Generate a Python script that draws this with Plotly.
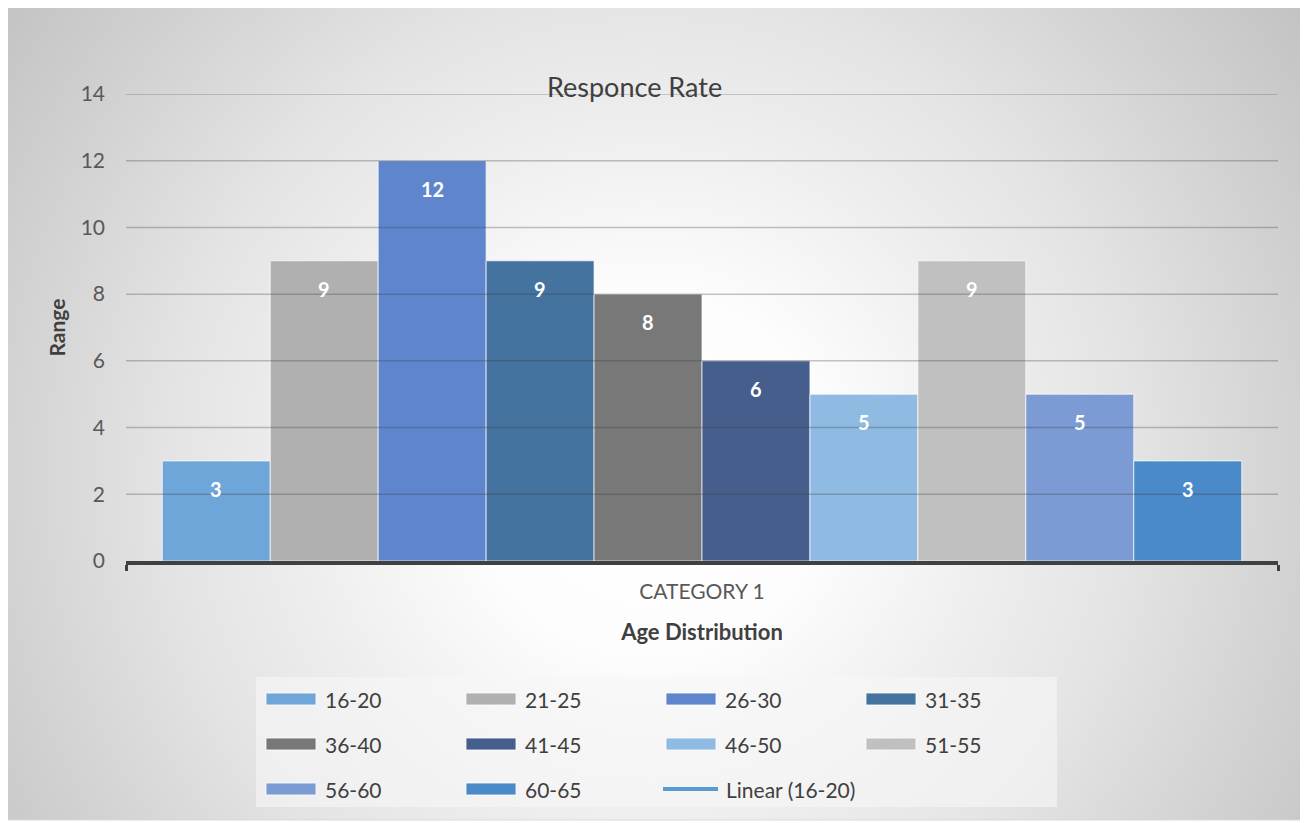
import base64
import plotly.graph_objects as go

# data
category = ["CATEGORY 1"]
age_groups = ["16-20", "21-25", "26-30", "31-35", "36-40",
              "41-45", "46-50", "51-55", "56-60", "60-65"]
responses = [3, 9, 12, 9, 8, 6, 5, 9, 5, 3]
bar_colors = ["#6FA6D9", "#B0B0B0", "#5F86CC", "#44739F", "#787878",
              "#455E8C", "#8FBAE2", "#C0C0C0", "#7C9BD4", "#4A8AC8"]
trend_name = "Linear (16-20)"
trend_color = "#5B9BD5"
y_ticks = [0, 2, 4, 6, 8, 10, 12, 14]

# page body has an 8px margin, so the figure is 8px smaller and
# all pixel positions below are given in page coordinates
OFF = 8
W, H = 1300, 815
L, R, T, B = 126 - OFF, 30, 94 - OFF, 262
PW, PH = W - L - R, H - T - B
BARGAP = 0.063
FONT = "Lato, 'Open Sans', sans-serif"


def px(x):
    return (x - OFF - L) / PW


def py(y):
    return (H - B - (y - OFF)) / PH


# radial grey background like the Excel chart area
svg = (
    "<svg xmlns='http://www.w3.org/2000/svg' width='1299' height='815' "
    "viewBox='0 0 1299 815' preserveAspectRatio='none'>"
    "<defs><radialGradient id='g' gradientUnits='userSpaceOnUse' cx='643' cy='470' r='800'>"
    "<stop offset='0' stop-color='#ffffff'/>"
    "<stop offset='0.22' stop-color='#fdfdfd'/>"
    "<stop offset='0.45' stop-color='#ededed'/>"
    "<stop offset='0.6' stop-color='#e4e4e4'/>"
    "<stop offset='0.8' stop-color='#d3d3d3'/>"
    "<stop offset='1' stop-color='#c3c3c3'/>"
    "</radialGradient></defs>"
    "<rect width='1299' height='815' fill='url(#g)'/></svg>"
)
bg_src = "data:image/svg+xml;base64," + base64.b64encode(svg.encode()).decode()

fig = go.Figure()

for name, val, col in zip(age_groups, responses, bar_colors):
    fig.add_trace(go.Bar(
        x=category, y=[val], name=name,
        marker=dict(color=col, line=dict(color="rgba(255,255,255,0.7)", width=1)),
        showlegend=False,
        hovertemplate=name + ": %{y}<extra></extra>",
    ))

# data labels, placed at each grouped bar's centre
n = len(age_groups)
bw = (1 - BARGAP) / n
annotations = []
for i, val in enumerate(responses):
    annotations.append(dict(
        x=-(1 - BARGAP) / 2 + (i + 0.5) * bw, y=val, xref="x", yref="y",
        text=str(val), showarrow=False, yshift=-28,
        font=dict(family=FONT, size=20, color="white", weight="bold"),
    ))

annotations.append(dict(
    x=px(634), y=py(86), xref="paper", yref="paper", text="Responce Rate",
    xanchor="center", yanchor="middle",
    showarrow=False, font=dict(family=FONT, size=27, color="#404040"),
))

shapes = []
# gridlines drawn over the bars
for t in y_ticks[1:]:
    shapes.append(dict(type="line", xref="paper", yref="y", x0=0, x1=1, y0=t, y1=t,
                       line=dict(color="rgba(60,60,60,0.3)", width=1.5), layer="above"))

# custom legend
shapes.append(dict(type="rect", xref="paper", yref="paper",
                   x0=px(256), x1=px(1057), y0=py(677), y1=py(807),
                   fillcolor="rgba(246,246,246,0.6)", line=dict(width=0), layer="below"))
entries = list(zip(age_groups, bar_colors)) + [(trend_name, trend_color)]
for i, (name, col) in enumerate(entries):
    row, c = divmod(i, 4)
    x0 = 266 + c * 200
    yc = 699 + row * 45
    if name == trend_name:
        shapes.append(dict(type="line", xref="paper", yref="paper",
                           x0=px(x0 - 3), x1=px(x0 + 52), y0=py(yc), y1=py(yc),
                           line=dict(color=col, width=4)))
        tx = x0 + 58
    else:
        shapes.append(dict(type="rect", xref="paper", yref="paper",
                           x0=px(x0), x1=px(x0 + 50), y0=py(yc - 6), y1=py(yc + 6),
                           fillcolor=col, line=dict(color="rgba(255,255,255,0.8)", width=1)))
        tx = x0 + 57
    annotations.append(dict(
        x=px(tx), y=py(yc), xref="paper", yref="paper", text=name,
        xanchor="left", yanchor="middle", showarrow=False,
        font=dict(family=FONT, size=21, color="#404040"),
    ))

# outer chart-area border
shapes.append(dict(type="rect", xref="paper", yref="paper",
                   x0=px(7), x1=px(1306), y0=py(5), y1=py(820),
                   line=dict(color="#d9d9d9", width=1), layer="below"))

fig.update_layout(
    width=W, height=H,
    margin=dict(l=L, r=R, t=T, b=B),
    paper_bgcolor="white",
    plot_bgcolor="rgba(0,0,0,0)",
    barmode="group", bargap=BARGAP, bargroupgap=0,
    showlegend=False,
    font=dict(family=FONT, color="#595959"),
    images=[dict(source=bg_src, xref="paper", yref="paper",
                 x=px(7), y=py(5), sizex=(1306 - 7) / PW, sizey=(820 - 5) / PH,
                 xanchor="left", yanchor="top", sizing="stretch", layer="below")],
    xaxis=dict(
        showline=True, linecolor="#404040", linewidth=3.5,
        ticks="outside", tickson="boundaries", ticklen=6, tickwidth=3, tickcolor="#404040",
        ticklabelstandoff=9,
        tickfont=dict(size=21, color="#595959"),
        title=dict(text="Age Distribution", standoff=24,
                   font=dict(size=22, color="#404040", weight="bold")),
        showgrid=False, automargin=False,
    ),
    yaxis=dict(
        range=[0, 14], tickvals=y_ticks, showgrid=False, zeroline=False,
        showline=False, ticks="", ticklabelstandoff=20,
        tickfont=dict(size=21, color="#595959"),
        title=dict(text="Range", standoff=9,
                   font=dict(size=21, color="#404040", weight="bold")),
        automargin=False,
    ),
    shapes=shapes,
    annotations=annotations,
)

fig.write_html("out.html")
